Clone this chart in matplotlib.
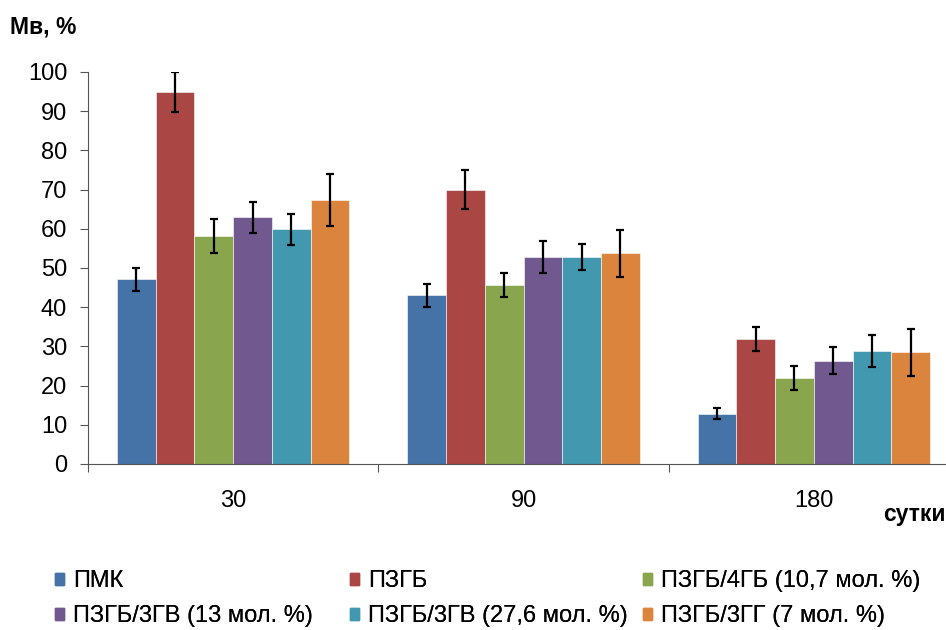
import matplotlib
matplotlib.use("Agg")
import matplotlib.pyplot as plt
from matplotlib.patches import Patch
import numpy as np

plt.rcParams['font.family'] = ['Liberation Sans', 'DejaVu Sans']

days = ["30", "90", "180"]
series = ["ПМК", "ПЗГБ", "ПЗГБ/4ГБ (10,7 мол. %)", "ПЗГБ/3ГВ (13 мол. %)",
          "ПЗГБ/3ГВ (27,6 мол. %)", "ПЗГБ/3ГГ (7 мол. %)"]
colors = ["#4572A7", "#AA4643", "#89A54E", "#71588F", "#4198AF", "#DB843D"]

pmk = [47.1, 43.0, 12.8]
p3gb = [94.9, 70.0, 31.9]
p4gb = [58.2, 45.6, 21.9]
p3gv13 = [62.9, 52.8, 26.4]
p3gv27 = [59.9, 52.8, 28.9]
p3gg = [67.4, 53.7, 28.5]

err_pmk = [3.0, 3.0, 1.4]
err_p3gb = [5.0, 5.0, 3.0]
err_p4gb = [4.4, 3.0, 3.0]
err_p3gv13 = [4.0, 4.0, 3.5]
err_p3gv27 = [4.0, 3.4, 4.1]
err_p3gg = [6.6, 6.0, 6.0]

values = [pmk, p3gb, p4gb, p3gv13, p3gv27, p3gg]
errors = [err_pmk, err_p3gb, err_p4gb, err_p3gv13, err_p3gv27, err_p3gg]

fig = plt.figure(figsize=(9.46, 6.3), dpi=100)
ax = fig.add_axes([88/946, 166/630, 871/946, 392/630])

x = np.arange(len(days))
w = 0.8 / 6
for i in range(6):
    ax.bar(x - 0.4 + w*(i + 0.5), values[i], w, color=colors[i],
           edgecolor="white", linewidth=0.4)
    ax.errorbar(x - 0.4 + w*(i + 0.5), values[i], yerr=errors[i], fmt="none",
                ecolor="black", elinewidth=1.6, capsize=3.2, capthick=1.6)

ax.set_xlim(-0.5, 2.5)
ax.set_ylim(0, 100)
ax.set_yticks(range(0, 101, 10))
ax.set_xticks([-0.5, 0.5, 1.5, 2.5])
ax.set_xticklabels([])
ax.set_xticks(x, minor=True)
ax.set_xticklabels(days, minor=True)
ax.tick_params(axis="x", which="minor", length=0, pad=19, labelsize=17)
ax.tick_params(axis="x", which="major", length=5.5, color="#555555")
ax.tick_params(axis="y", length=5.5, color="#555555", labelsize=17, pad=9.5)
for s in ["top", "right"]:
    ax.spines[s].set_visible(False)
ax.spines["left"].set_color("#555555")
ax.spines["bottom"].set_color("#555555")
ax.spines["left"].set_bounds(0, 100)

fig.text(10/946, 1 - 27/630, "Мв, %", fontsize=16.5, fontweight="bold", va="center")
fig.text(946/946, 1 - 514/630, "сутки", fontsize=16.5, fontweight="bold",
         va="center", ha="right")

handles = [Patch(color=c) for c in colors]
col_x = [55, 350, 643]
for k in range(3):
    leg = fig.legend([handles[k], handles[k + 3]], [series[k], series[k + 3]],
                     loc="upper left", bbox_to_anchor=(col_x[k]/946, 1 - 570/630),
                     frameon=False, fontsize=17, handlelength=0.4,
                     handleheight=0.4, handletextpad=0.38, labelspacing=0.55,
                     borderpad=0, borderaxespad=0)
    fig.add_artist(leg)

fig.savefig("out.png", dpi=100)
